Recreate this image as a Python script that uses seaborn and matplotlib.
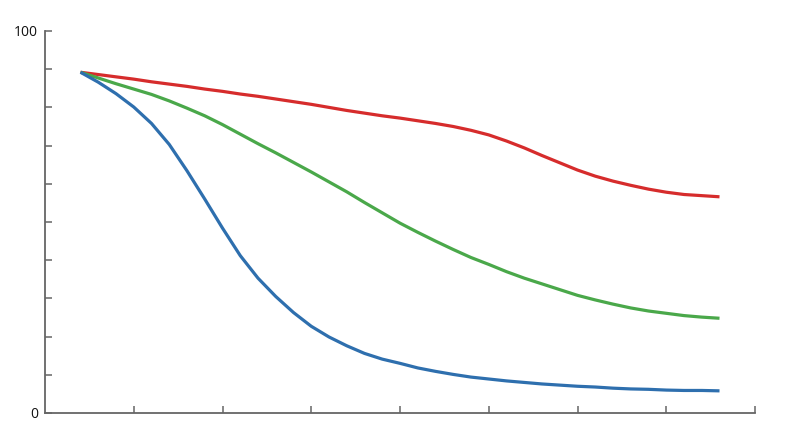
import numpy as np
import pandas as pd
import seaborn as sns
import matplotlib
matplotlib.use("Agg")
import matplotlib.pyplot as plt

# values
x_vals = [0.4, 0.6, 0.8, 1.0, 1.2, 1.4, 1.6, 1.8, 2.0, 2.2, 2.4, 2.6, 2.8,
          3.0, 3.2, 3.4, 3.6, 3.8, 4.0, 4.2, 4.4, 4.6, 4.8, 5.0, 5.2, 5.4,
          5.6, 5.8, 6.0, 6.2, 6.4, 6.6, 6.8, 7.0, 7.2, 7.4, 7.6]
red_vals = [89.2, 88.6, 88.0, 87.4, 86.7, 86.1, 85.5, 84.8, 84.2, 83.5,
            82.9, 82.2, 81.5, 80.8, 80.0, 79.2, 78.5, 77.8, 77.2, 76.5,
            75.8, 75.0, 74.0, 72.8, 71.2, 69.4, 67.4, 65.5, 63.6, 62.0,
            60.7, 59.6, 58.6, 57.8, 57.2, 56.9, 56.6]
green_vals = [89.2, 87.7, 86.2, 84.8, 83.4, 81.7, 79.8, 77.8, 75.5, 73.0,
              70.5, 68.1, 65.6, 63.1, 60.5, 57.9, 55.1, 52.4, 49.7, 47.3,
              45.0, 42.8, 40.7, 38.9, 37.0, 35.3, 33.8, 32.3, 30.8, 29.6,
              28.5, 27.5, 26.7, 26.1, 25.5, 25.1, 24.8]
blue_vals = [89.2, 86.6, 83.6, 80.1, 75.8, 70.3, 63.4, 56.0, 48.4, 41.2,
             35.3, 30.5, 26.3, 22.7, 19.9, 17.6, 15.6, 14.1, 13.0, 11.8,
             10.9, 10.1, 9.4, 8.9, 8.4, 8.0, 7.6, 7.3, 7.0, 6.8,
             6.5, 6.3, 6.2, 6.0, 5.9, 5.9, 5.8]
series_names = ["red", "green", "blue"]
colors = ["#d62c2c", "#4aa84a", "#2e6fae"]
x_ticks = [1, 2, 3, 4, 5, 6, 7, 8]
y_ticks = [0, 10, 20, 30, 40, 50, 60, 70, 80, 90, 100]

df = pd.DataFrame({
    "x": x_vals * 3,
    "y": red_vals + green_vals + blue_vals,
    "series": [n for n in series_names for _ in x_vals],
})

sns.set_style("white")
plt.rcParams["font.family"] = ["Open Sans", "DejaVu Sans"]

fig = plt.figure(figsize=(8, 4.47), dpi=100)
ax = fig.add_axes([45 / 800, 34 / 447, 710 / 800, 382 / 447])

sns.lineplot(data=df, x="x", y="y", hue="series", palette=colors,
             linewidth=2.3, legend=False, ax=ax)
for line in ax.get_lines():
    line.set_solid_capstyle("butt")
    line.set_solid_joinstyle("round")

ax.set_xlim(0, 8)
ax.set_ylim(0, 100)
ax.set_xticks(x_ticks)
ax.set_xticklabels([])
ax.set_yticks(y_ticks)
ax.set_yticklabels(["0"] + [""] * 9 + ["100"])
ax.set_xlabel("")
ax.set_ylabel("")

for side in ["top", "right"]:
    ax.spines[side].set_visible(False)
for side in ["left", "bottom"]:
    ax.spines[side].set_color("#666666")
    ax.spines[side].set_linewidth(1.3)

ax.tick_params(axis="both", left=True, bottom=True, direction="in",
               length=5, width=1.1, color="#666666", labelsize=10,
               labelcolor="#111111", pad=5)

fig.savefig("out.png", dpi=100)
